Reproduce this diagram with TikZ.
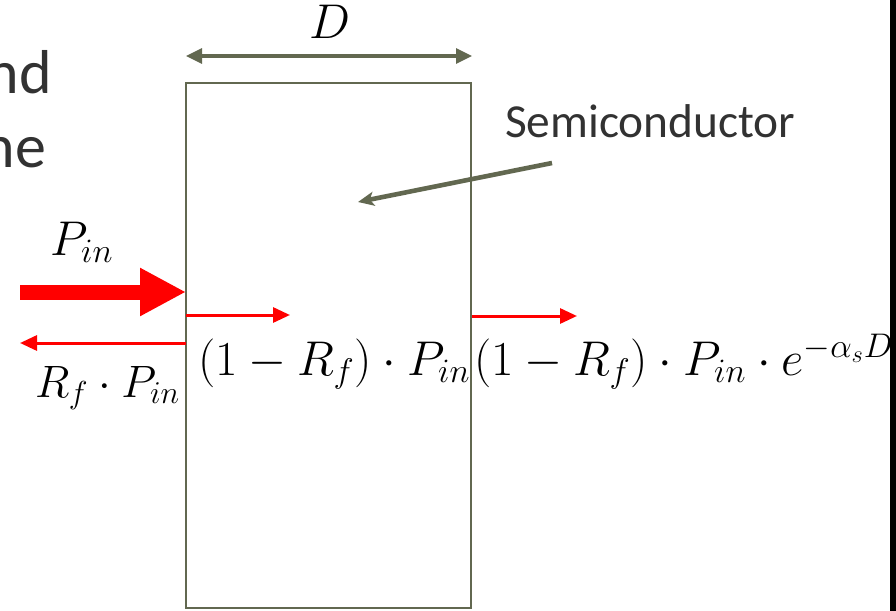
\RequirePackage{fix-cm}
\documentclass[tikz,border=0pt]{standalone}
\usepackage{fontspec}
\newfontfamily\slidefont{Carlito}
\usetikzlibrary{arrows.meta, positioning, calc}
\definecolor{slabgray}{RGB}{98,104,80}
\definecolor{beamred}{RGB}{255,0,0}
\definecolor{slidegray}{RGB}{50,50,50}

\begin{document}
\begin{tikzpicture}[
    x=0.5pt, y=-0.5pt,
    every node/.style={inner sep=0pt, outer sep=0pt},
    mathlabel/.style={font=\fontsize{24.4}{29}\selectfont},
    slidetext/.style={font=\slidefont\fontsize{31}{37}\selectfont, text=slidegray},
    beam/.style={-{Triangle[length=8.5pt, width=7.5pt]}, line width=1.5pt, beamred},
    bigbeam/.style={-{Triangle[length=23pt, width=22.5pt]}, line width=7.5pt, beamred},
    dimline/.style={{Triangle[length=8pt, width=7.5pt]}-{Triangle[length=8pt, width=7.5pt]}, line width=1.6pt, slabgray},
    pointer/.style={-{Stealth[length=8pt, width=7pt, inset=2pt]}, line width=2.3pt, slabgray}
]
    \useasboundingbox (0,0) rectangle (896,611);
    \fill[black] (890,0) rectangle (896,611);

    % slide text cut off at the left
    \node[slidetext, anchor=base east] (wordA) at (52,93) {nd};
    \node[slidetext, anchor=base east] (wordB) at (46,167) {ne};

    % semiconductor slab
    \node[draw=slabgray, line width=1.3pt, minimum width=142.5pt, minimum height=262.5pt] (slab) at (328.5,345.5) {};
    \node[slidetext, font=\slidefont\fontsize{23.7}{28}\selectfont, anchor=base west] (semi) at (505,137) {Semiconductor};
    \coordinate (semitail) at (552,163);
    \coordinate (semitip) at (358,202);
    \draw[pointer] (semitail) -- (semitip);

    % thickness D
    \coordinate (dimL) at (186,56);
    \coordinate (dimR) at (472,56);
    \draw[dimline] (dimL) -- (dimR);
    \node[mathlabel, anchor=base] (dlabel) at (330,38) {$D$};

    % beams
    \coordinate (srcin) at (20,292);
    \coordinate (hitin) at (186,292);
    \coordinate (refl) at (186,343);
    \coordinate (reflend) at (20,343);
    \coordinate (trans) at (186,315);
    \coordinate (transend) at (290,315);
    \coordinate (outst) at (472,316);
    \coordinate (outend) at (577,316);
    \draw[bigbeam] (srcin) -- (hitin);
    \draw[beam] (refl) -- (reflend);
    \draw[beam] (trans) -- (transend);
    \draw[beam] (outst) -- (outend);

    \node[mathlabel, anchor=base] (pin) at (82,255) {$P_{in}$};
    \node[mathlabel, font=\fontsize{22.7}{27}\selectfont, anchor=base west] (prefl) at (35,397) {$R_f\cdot P_{in}$};
    \node[mathlabel, anchor=base west] (ptrans) at (198,375) {$(1-R_f)\cdot P_{in}$};
    \node[mathlabel, anchor=base west] (pout) at (474,375) {$(1-R_f)\cdot P_{in}\cdot e^{-\alpha_s D}$};
\end{tikzpicture}
\end{document}
